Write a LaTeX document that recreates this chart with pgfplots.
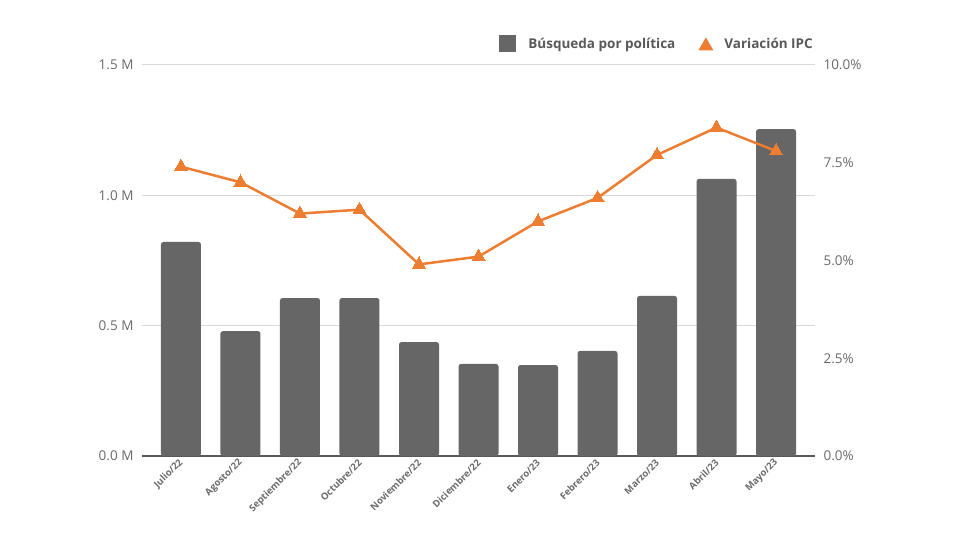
\documentclass[border=0pt]{standalone}
\usepackage{pgfplots}
\pgfplotsset{compat=1.18}
\usepackage{fontspec}
\setmainfont{Open Sans}
\definecolor{barc}{HTML}{666666}
\definecolor{linec}{HTML}{ED7D31}
\definecolor{txt}{HTML}{6B6B6B}
\definecolor{lgtxt}{HTML}{595959}
\definecolor{grd}{HTML}{D9D9D9}
\begin{document}
\begin{tikzpicture}[x=1pt,y=1pt]
\path[use as bounding box, fill=white] (0,0) rectangle (960,540);
\begin{axis}[
  at={(142pt,84pt)}, anchor=south west,
  scale only axis, width=673pt, height=391pt,
  xmin=-0.655, xmax=10.655,
  ymin=0, ymax=1.5,
  xtick={0,...,10},
  xticklabels={Julio/22,Agosto/22,Septiembre/22,Octubre/22,Noviembre/22,Diciembre/22,Enero/23,Febrero/23,Marzo/23,Abril/23,Mayo/23},
  x tick label style={rotate=45, anchor=east, font=\fontsize{9.5}{11}\selectfont\bfseries, text=txt, xshift=0pt, yshift=-4pt},
  ytick={0,0.5,1,1.5},
  yticklabels={0.0 M,0.5 M,1.0 M,1.5 M},
  y tick label style={font=\fontsize{13.5}{16}\selectfont, text=txt, xshift=-5pt},
  ymajorgrids, grid style={grd, line width=1pt},
  axis x line*=bottom, axis y line*=left,
  x axis line style={draw=lgtxt, line width=1.5pt, -},
  y axis line style={draw=none},
  major tick length=0pt,
  clip=false,
]
\addplot[ybar, bar width=40pt, fill=barc, draw=none, rounded corners=2.5pt] coordinates {
(0,0.821) (1,0.479) (2,0.606) (3,0.606) (4,0.437) (5,0.353) (6,0.349) (7,0.403) (8,0.614) (9,1.063) (10,1.254)};
\end{axis}
\begin{axis}[
  at={(142pt,84pt)}, anchor=south west,
  scale only axis, width=673pt, height=391pt,
  xmin=-0.655, xmax=10.655,
  ymin=0, ymax=10,
  axis x line=none, axis y line*=right,
  y axis line style={draw=none},
  ytick={0,2.5,5,7.5,10},
  yticklabels={0.0\%,2.5\%,5.0\%,7.5\%,10.0\%},
  y tick label style={font=\fontsize{13.5}{16}\selectfont, text=txt, xshift=5pt},
  major tick length=0pt,
  clip=false,
  legend columns=2,
  legend style={draw=none, fill=none, at={(1,1.054)}, anchor=east,
    font=\fontsize{13.5}{16}\selectfont\bfseries, text=lgtxt,
    /tikz/every even column/.append style={column sep=21pt},
    inner sep=0pt},
]
\addlegendimage{legend image code/.code={\fill[barc, draw=none] (0pt,-8.5pt) rectangle (17pt,8.5pt); \path[draw=none, fill=none] (0pt,0pt) -- (27pt,0pt);}}
\addlegendentry{Búsqueda por política}
\addplot[linec, line width=2.5pt, mark=triangle*, mark size=7.5pt, mark options={fill=linec, line width=0pt},
  legend image code/.code={\fill[linec, draw=none] (7.5pt,6.5pt) -- (0pt,-6.5pt) -- (15pt,-6.5pt) -- cycle; \path[draw=none, fill=none] (0pt,0pt) -- (24pt,0pt);}]
 coordinates {
(0,7.4) (1,7.0) (2,6.2) (3,6.3) (4,4.9) (5,5.1) (6,6.0) (7,6.6) (8,7.7) (9,8.4) (10,7.8)};
\addlegendentry{Variación IPC}
\end{axis}
\end{tikzpicture}
\end{document}
